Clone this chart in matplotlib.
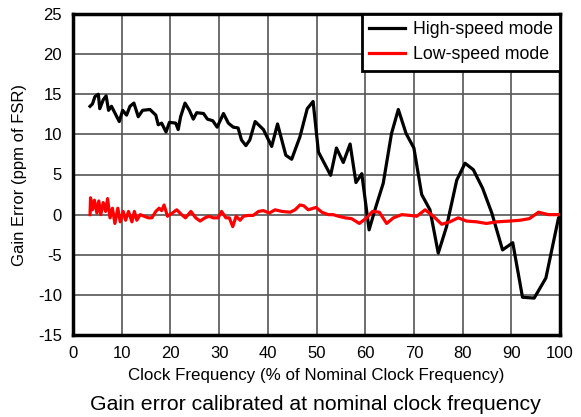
import matplotlib
matplotlib.use("Agg")
import matplotlib.pyplot as plt

plt.rcParams['font.family'] = ['Liberation Sans', 'DejaVu Sans']
plt.rcParams['axes.unicode_minus'] = False

hs_x = [3.5, 4.0, 4.5, 5.2, 5.5, 6.2, 6.8, 7.3, 7.9, 9.5, 10.2, 11.0, 11.7, 12.5, 13.4, 14.3,
        15.8, 17.0, 17.5, 18.2, 19.1, 19.8, 21.1, 21.6, 22.1, 23.0, 23.9, 24.7, 25.4, 26.8,
        27.6, 28.7, 29.6, 30.9, 31.9, 32.9, 33.9, 34.6, 35.5, 36.3, 37.4, 39.1, 40.8, 42.0,
        43.7, 44.9, 46.6, 48.1, 49.3, 50.4, 52.9, 54.1, 55.5, 56.9, 58.1, 59.3, 60.8, 62.2,
        63.7, 65.4, 66.8, 68.4, 70.0, 71.6, 73.3, 75.0, 76.7, 78.8, 80.5, 82.2, 84.1, 86.0,
        88.2, 90.3, 92.3, 94.7, 97.1, 99.7, 100.0]
hs_y = [13.5, 13.8, 14.7, 15.0, 13.2, 14.3, 14.8, 13.0, 13.5, 11.6, 13.0, 12.4, 13.5, 13.9, 12.2, 13.0,
        13.1, 12.4, 11.2, 11.4, 10.3, 11.5, 11.4, 10.6, 12.2, 13.9, 13.0, 11.9, 12.7, 12.6,
        11.9, 11.7, 10.9, 12.6, 11.4, 10.9, 10.8, 9.3, 8.6, 9.3, 11.6, 10.6, 8.5, 11.3,
        7.4, 6.9, 9.7, 13.2, 14.1, 7.8, 4.9, 8.3, 6.5, 8.8, 4.0, 5.1, -1.9, 1.0,
        3.9, 10.1, 13.1, 10.1, 8.3, 2.5, 0.6, -4.8, -1.5, 4.3, 6.4, 5.6, 3.3, 0.2,
        -4.4, -3.5, -10.3, -10.4, -7.9, -0.4, -0.2]

ls_x = [3.5, 3.6, 4.0, 4.4, 4.9, 5.3, 5.7, 6.2, 6.7, 7.1, 7.6, 8.1, 8.6, 9.2, 9.7, 10.3,
        10.8, 11.4, 12.1, 12.6, 13.1, 13.8, 14.6, 15.5, 16.2, 17.0, 17.7, 18.2, 18.7, 19.4,
        20.4, 21.3, 22.3, 23.1, 24.2, 25.2, 26.1, 27.1, 27.9, 28.8, 29.8, 30.5, 31.4, 32.1,
        32.8, 33.5, 34.3, 35.0, 36.0, 37.0, 38.1, 39.1, 40.3, 41.5, 42.9, 44.6, 45.6, 46.6,
        47.4, 48.3, 49.9, 51.1, 52.4, 53.4, 54.5, 55.9, 57.2, 58.8, 60.3, 61.5, 62.9, 64.4,
        65.8, 67.5, 69.2, 70.6, 72.3, 74.0, 75.7, 77.4, 79.1, 80.8, 82.9, 84.9, 87.0, 89.7,
        91.8, 93.7, 95.6, 97.6, 100.0]
ls_y = [0.0, 2.1, 0.6, 1.8, 0.2, 1.7, 0.0, 1.5, 0.4, 2.0, -0.4, 0.8, -1.1, 0.8, -0.9, 0.4,
        -0.7, 0.4, -0.9, 0.4, -0.7, 0.0, -0.2, -0.4, -0.4, 0.4, 0.8, 0.5, 1.2, -0.2,
        0.2, 0.6, 0.0, -0.4, 0.4, -0.4, -0.8, -0.4, -0.2, -0.4, -0.4, 0.4, -0.4, -0.4,
        -1.5, -0.2, -0.7, -0.2, -0.1, -0.1, 0.4, 0.5, 0.2, 0.6, 0.4, 0.3, 0.6, 1.2,
        1.1, 0.6, 0.9, 0.3, 0.0, 0.0, -0.2, -0.4, -0.5, -1.1, -0.4, 0.4, 0.3, -1.1,
        -0.4, 0.0, -0.1, -0.2, 0.6, -0.2, -1.2, -0.9, -0.4, -0.8, -0.9, -1.1, -0.9, -0.8,
        -0.7, -0.5, 0.3, 0.0, 0.0]

x_ticks = [0, 10, 20, 30, 40, 50, 60, 70, 80, 90, 100]
y_ticks = [-15, -10, -5, 0, 5, 10, 15, 20, 25]

fig = plt.figure(figsize=(5.81, 4.17), dpi=100)
ax = fig.add_axes([73/581, 1-335/417, (560-73)/581, (335-14)/417])

ax.plot(hs_x, hs_y, color='black', lw=2.3, label='High-speed mode', zorder=3)
ax.plot(ls_x, ls_y, color='#ff0000', lw=2.3, label='Low-speed mode', zorder=3)

ax.set_xlim(0, 100)
ax.set_ylim(-15, 25)
ax.set_xticks(x_ticks)
ax.set_yticks(y_ticks)
ax.grid(True, color='#555555', lw=1.2)
ax.set_axisbelow(True)
for s in ax.spines.values():
    s.set_linewidth(2.5)
    s.set_color('black')
ax.tick_params(length=0, labelsize=12, pad=8)

ax.set_xlabel('Clock Frequency (% of Nominal Clock Frequency)', fontsize=12.2, labelpad=5)
ax.set_ylabel('Gain Error (ppm of FSR)', fontsize=12, labelpad=8)

leg = ax.legend(loc='upper right', fontsize=12.8, frameon=True, fancybox=False,
                borderaxespad=0, handlelength=2.0, handletextpad=0.45,
                borderpad=0.42, labelspacing=0.45)
leg.get_frame().set_edgecolor('black')
leg.get_frame().set_linewidth(2)
leg.get_frame().set_alpha(1)

fig.text(315/581, 1-405/417, 'Gain error calibrated at nominal clock frequency',
         ha='center', va='center', fontsize=15.3)

fig.savefig('out.png', dpi=100)
